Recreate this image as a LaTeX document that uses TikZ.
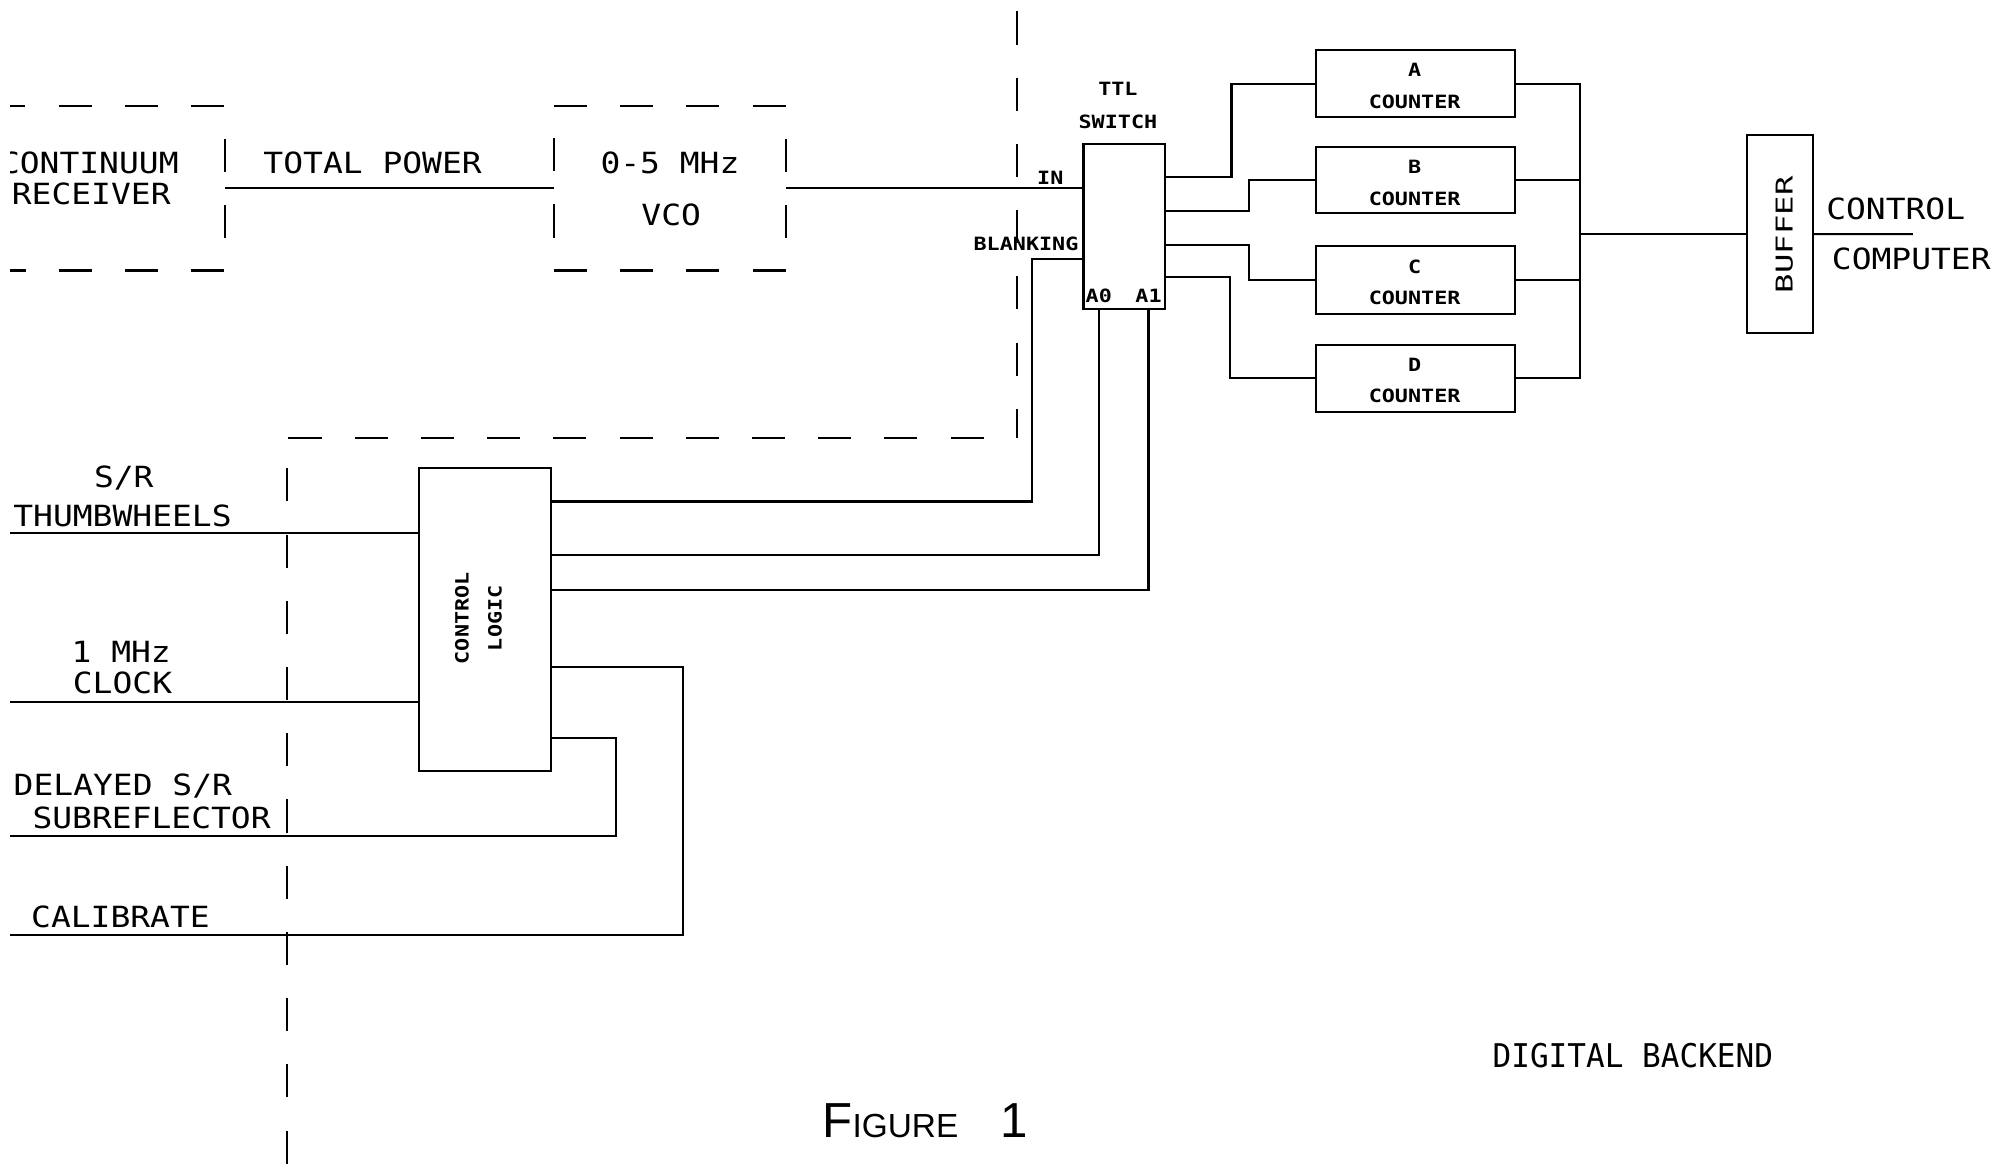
\documentclass[tikz,border=0pt]{standalone}
\usepackage{fontspec}
\newfontfamily\bigf[FakeStretch=1.13]{DejaVu Sans Mono}
\newfontfamily\smallf[FakeStretch=1.19]{DejaVu Sans Mono}
\newfontfamily\buff[FakeStretch=1.39]{DejaVu Sans Mono}
\newfontfamily\dbf[FakeStretch=0.95]{DejaVu Sans Mono}
\newfontfamily\figf{Liberation Sans}
\usetikzlibrary{fit}
\tikzset{
  wire/.style={line width=0.6pt},
  blk/.style={draw, line width=0.6pt, inner sep=0pt, outer sep=0pt},
  dframe/.style={inner sep=0pt, outer sep=0pt},
  dashsep/.style={line width=0.6pt, dash pattern=on 9.42pt off 9.42pt},
  bigtxt/.style={font={\bigf\fontsize{8.3}{9}\selectfont}, inner sep=0pt, outer sep=0pt, text height=6.05pt, text depth=0pt},
  smalltxt/.style={font={\smallf\bfseries\fontsize{5.2}{9.4}\selectfont}, inner sep=0pt, outer sep=0pt, text height=3.8pt, text depth=0pt},
  smallml/.style={font={\smallf\bfseries\fontsize{5.2}{9.4}\selectfont}, inner sep=0pt, outer sep=0pt, align=center},
}
\begin{document}
\begin{tikzpicture}[x=0.127615mm, y=-0.127615mm]
\fill[white] (0,0) rectangle (1568,915);
\useasboundingbox (0,0) rectangle (1568,915);
\begin{scope}
\clip (8,-10) rectangle (1580,930);

% ---------- dashed frames (analog part)
\node[dframe, fit={(-6,83) (176,212)}] (recv) {};
\draw[dashsep] (recv.north west) -- (recv.north east) -- (recv.south east) -- (recv.south west) -- cycle;
\node[dframe, fit={(434,83) (616,212)}] (vco) {};
\draw[dashsep] (vco.north west) -- (vco.north east) -- (vco.south east) -- (vco.south west) -- cycle;

\node[bigtxt] (rcv1) at (70,127.3) {CONTINUUM};
\node[bigtxt] (rcv2) at (71.5,152) {RECEIVER};
\node[bigtxt] (tpw) at (292,127.3) {TOTAL POWER};
\node[bigtxt] (vco1) at (525,127.3) {0-5 MHz};
\node[bigtxt] (vco2) at (526,168) {VCO};

% ---------- separators
\draw[dashsep] (797,9) -- (797,343);
\draw[dashsep] (226,343) -- (775,343);
\draw[dashsep] (225,367) -- (225,930);

% ---------- blocks
\node[blk, fit={(849,113) (913,242)}] (sw) {};
\node[smallml] (swT) at (876,82.5) {TTL\\SWITCH};
\node[smalltxt] (inT) at (823,139) {IN};
\node[smalltxt] (blT) at (804,191) {BLANKING};
\node[smalltxt] (a0T) at (861,232) {A0};
\node[smalltxt] (a1T) at (900,232) {A1};

\node[blk, fit={(1031,39) (1187,92)}] (cA) {};
\node[blk, fit={(1031,115) (1187,167)}] (cB) {};
\node[blk, fit={(1031,193) (1187,246)}] (cC) {};
\node[blk, fit={(1031,270) (1187,323)}] (cD) {};
\node[smalltxt] (cAl) at (1108.5,55) {A};
\node[smalltxt] (cAc) at (1108.5,79.5) {COUNTER};
\node[smalltxt] (cBl) at (1108.5,131) {B};
\node[smalltxt] (cBc) at (1108.5,155.5) {COUNTER};
\node[smalltxt] (cCl) at (1108.5,209) {C};
\node[smalltxt] (cCc) at (1108.5,233.5) {COUNTER};
\node[smalltxt] (cDl) at (1108.5,286) {D};
\node[smalltxt] (cDc) at (1108.5,310.5) {COUNTER};

\node[blk, fit={(1369,106) (1421,261)}] (buf) {};
\node[font={\buff\fontsize{6.6}{8}\selectfont}, inner sep=0pt, text height=4.8pt, text depth=0pt, rotate=90] (bufT) at (1398,184) {BUFFER};
\node[bigtxt] (cc1) at (1485.5,164) {CONTROL};
\node[bigtxt] (cc2) at (1497.7,202.5) {COMPUTER};

\node[blk, fit={(328,367) (432,604)}] (cl) {};
\node[smallml, rotate=90] (clT) at (375,484.5) {CONTROL\\LOGIC};

% ---------- input labels
\node[bigtxt] (sr1) at (97,374) {S/R};
\node[bigtxt] (sr2) at (96,404.5) {THUMBWHEELS};
\node[bigtxt] (ck1) at (95,511) {1 MHz};
\node[bigtxt] (ck2) at (96,535) {CLOCK};
\node[bigtxt] (dl1) at (96.3,615) {DELAYED S/R};
\node[bigtxt] (dl2) at (118.8,640.5) {SUBREFLECTOR};
\node[bigtxt] (cal) at (94.4,718.5) {CALIBRATE};

\node[font={\dbf\fontsize{9.3}{10}\selectfont}, inner sep=0pt, text height=6.8pt, text depth=0pt] (dbk) at (1279.5,827) {DIGITAL BACKEND};
\node[anchor=base west, inner sep=0pt, font=\figf] (fig) at (644,891) {{\fontsize{14}{14}\selectfont F}{\fontsize{9.5}{10}\selectfont IGURE}\hspace{12pt}{\fontsize{14}{14}\selectfont 1}};

% ---------- connectors
\draw[wire] (recv.east) -- (vco.west);
\draw[wire] (vco.east) -- (sw.west |- vco.east);

\coordinate (pA) at (965,139);
\coordinate (pB) at (979,165);
\coordinate (pC) at (979,192);
\coordinate (pD) at (964,217);
\draw[wire] (sw.east |- pA) -- (pA) |- (cA.west);
\draw[wire] (sw.east |- pB) -- (pB) |- (cB.west);
\draw[wire] (sw.east |- pC) -- (pC) |- (cC.west);
\draw[wire] (sw.east |- pD) -- (pD) |- (cD.west);

\coordinate (busX) at (1238,0);
\draw[wire] (cA.east) -- (cA.east -| busX) -- (cD.east -| busX) -- (cD.east);
\draw[wire] (cB.east) -- (cB.east -| busX);
\draw[wire] (cC.east) -- (cC.east -| busX);
\draw[wire] (buf.west -| busX) -- (buf.west);
\coordinate (cmp) at (1499,183.5);
\draw[wire] (buf.east) -- (cmp);

\coordinate (bk) at (809,203);
\coordinate (byl) at (0,393);
\draw[wire] (sw.west |- bk) -- (bk) |- (cl.east |- byl);
\coordinate (a0k) at (861,435);
\draw[wire] (sw.south -| a0k) -- (a0k) -- (cl.east |- a0k);
\coordinate (a1k) at (900,462);
\draw[wire] (sw.south -| a1k) -- (a1k) -- (cl.east |- a1k);

\coordinate (iTW) at (0,418);
\coordinate (iCK) at (0,550);
\coordinate (iDL) at (0,655);
\coordinate (iCB) at (0,733);
\coordinate (kDL) at (483,578);
\coordinate (kCB) at (535,523);
\draw[wire] (iTW) -- (cl.west |- iTW);
\draw[wire] (iCK) -- (cl.west |- iCK);
\draw[wire] (iDL) -| (kDL) -- (cl.east |- kDL);
\draw[wire] (iCB) -| (kCB) -- (cl.east |- kCB);
\end{scope}
\end{tikzpicture}
\end{document}
